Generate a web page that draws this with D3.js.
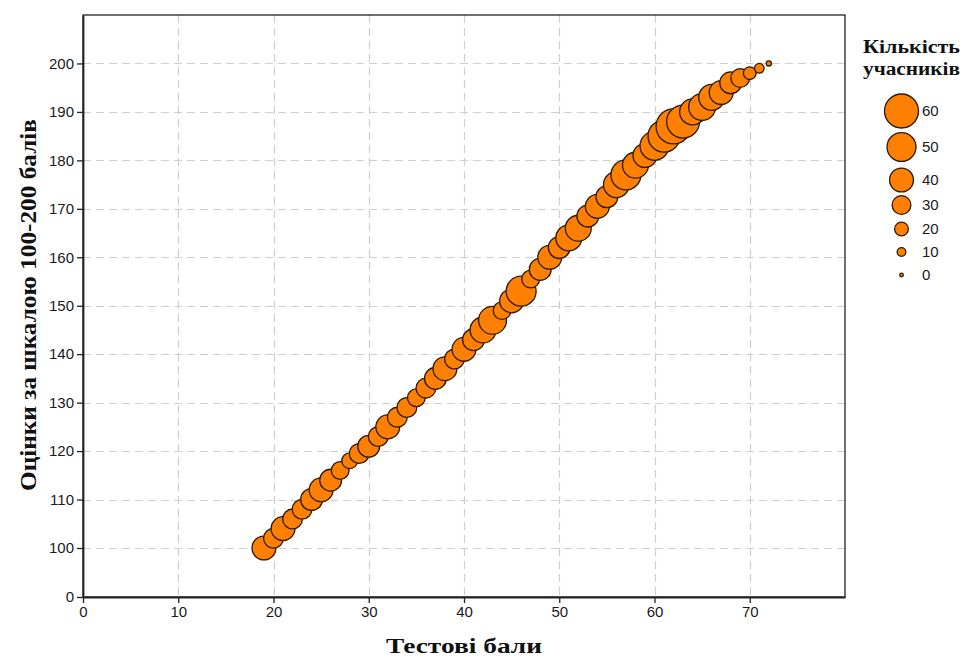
<!DOCTYPE html>
<html>
<head>
<meta charset="utf-8">
<script src="https://cdn.jsdelivr.net/npm/d3@7"></script>
<style>
  html, body { margin: 0; padding: 0; background: #fff; }
  svg { display: block; }
</style>
</head>
<body>
<svg id="chart" width="964" height="659"></svg>
<script>
// ---- Data ----
const testScores = [19,20,21,22,23,24,25,26,27,28,29,30,31,32,33,34,35,36,37,38,39,40,41,42,43,44,45,46,47,48,49,50,51,52,53,54,55,56,57,58,59,60,61,62,63,64,65,66,67,68,69,70,71,72];
const scaledScores = [100,102,104,106,108,110,112,114,116,118,119.5,121,123,125,127,129,131,133,135,137,139,141,143,145,147,149,151,153,155.5,157.5,160,162,164,166,168.5,170.5,172.5,175,177,179,181,183,185,187,188,190,191,193,194,196,197,198,199,200];
const participants = [40,32,40,32,32,36,40,36,28,24,32,36,32,40,32,32,28,32,36,40,32,40,36,44,48,28,40,52,28,36,40,36,44,44,36,40,36,44,52,44,40,50,56,62,58,44,46,44,40,36,30,18,12,3];
const xTickValues = [0,10,20,30,40,50,60,70];
const yTickValues = [0,100,110,120,130,140,150,160,170,180,190,200];
const legendValues = [60,50,40,30,20,10,0];
const xTitle = "Тестові бали";
const yTitle = "Оцінки за шкалою 100-200 балів";
const legendTitle = ["Кількість", "учасників"];

// ---- Layout ----
const svg = d3.select("#chart");
const plot = { left: 83, right: 845, top: 15, bottom: 597 };

const x = d3.scaleLinear().domain([0, 80]).range([plot.left, plot.right]);
// broken axis: 0 .. 100 compressed, 100 .. 210 linear
const y = d3.scaleLinear().domain([0, 100, 210]).range([plot.bottom, 548, plot.top]);
const r = d3.scaleLinear().domain([0, 60]).range([1.8, 17]);

const fill = "#ff8000";
const stroke = "#2a1a08";

// gridlines
const grid = svg.append("g").attr("stroke", "#cfcfcf").attr("stroke-width", 1.2)
  .attr("stroke-dasharray", "8,5");
grid.selectAll("line.v").data(xTickValues.filter(d => d > 0)).join("line")
  .attr("class", "v")
  .attr("x1", d => Math.round(x(d)) + 0.5).attr("x2", d => Math.round(x(d)) + 0.5)
  .attr("y1", plot.top).attr("y2", plot.bottom);
grid.selectAll("line.h").data(yTickValues.filter(d => d > 0)).join("line")
  .attr("class", "h")
  .attr("y1", d => Math.round(y(d)) + 0.5).attr("y2", d => Math.round(y(d)) + 0.5)
  .attr("x1", plot.left).attr("x2", plot.right);

// frame
svg.append("rect")
  .attr("x", plot.left).attr("y", plot.top)
  .attr("width", plot.right - plot.left).attr("height", plot.bottom - plot.top)
  .attr("fill", "none").attr("stroke", "#222").attr("stroke-width", 1.3);

// axes
const xAxis = d3.axisBottom(x).tickValues(xTickValues).tickSizeInner(6).tickSizeOuter(0).tickPadding(3).tickFormat(d3.format("d"));
const yAxis = d3.axisLeft(y).tickValues(yTickValues).tickSizeInner(6).tickSizeOuter(0).tickPadding(3).tickFormat(d3.format("d"));

const gx = svg.append("g").attr("transform", `translate(0,${plot.bottom})`).call(xAxis);
const gy = svg.append("g").attr("transform", `translate(${plot.left},0)`).call(yAxis);
[gx, gy].forEach(g => {
  g.select(".domain").attr("stroke", "#222").attr("stroke-width", 1.8);
  g.selectAll(".tick line").attr("stroke", "#222").attr("stroke-width", 1.3);
  g.selectAll(".tick text").attr("font-family", "'Liberation Sans', Arial, sans-serif")
    .attr("font-size", 15).attr("fill", "#1a1a1a");
});

// bubbles
const data = testScores.map((s, i) => ({ s, v: scaledScores[i], n: participants[i] }));
svg.append("g").selectAll("circle").data(data).join("circle")
  .attr("cx", d => x(d.s)).attr("cy", d => y(d.v)).attr("r", d => r(d.n))
  .attr("fill", fill).attr("stroke", stroke).attr("stroke-width", 1.3);

// axis titles
svg.append("text")
  .attr("x", 464).attr("y", 653)
  .attr("text-anchor", "middle")
  .attr("font-family", "'Liberation Serif', 'Times New Roman', serif")
  .attr("font-weight", "bold").attr("font-size", 22)
  .attr("textLength", 156).attr("lengthAdjust", "spacingAndGlyphs")
  .attr("fill", "#111")
  .text(xTitle);

svg.append("text")
  .attr("transform", "translate(36,305) rotate(-90)")
  .attr("text-anchor", "middle")
  .attr("font-family", "'Liberation Serif', 'Times New Roman', serif")
  .attr("font-weight", "bold").attr("font-size", 23)
  .attr("textLength", 372).attr("lengthAdjust", "spacingAndGlyphs")
  .attr("fill", "#111")
  .text(yTitle);

// legend
const lg = svg.append("g");
legendTitle.forEach((t, i) => {
  lg.append("text")
    .attr("x", 863).attr("y", 53 + i * 22)
    .attr("font-family", "'Liberation Serif', 'Times New Roman', serif")
    .attr("font-weight", "bold").attr("font-size", 18)
    .attr("textLength", 97).attr("lengthAdjust", "spacingAndGlyphs")
    .attr("fill", "#111")
    .text(t);
});
const legendPos = [111, 147, 180, 205, 229, 252, 275];
lg.selectAll("circle").data(legendValues).join("circle")
  .attr("cx", 901.5).attr("cy", (d, i) => legendPos[i]).attr("r", d => r(d))
  .attr("fill", fill).attr("stroke", stroke).attr("stroke-width", 1.3);
lg.selectAll("text.lv").data(legendValues).join("text")
  .attr("class", "lv")
  .attr("x", 922).attr("y", (d, i) => legendPos[i]).attr("dy", "0.35em")
  .attr("font-family", "'Liberation Sans', Arial, sans-serif")
  .attr("font-size", 15).attr("fill", "#1a1a1a")
  .text(d => d);
</script>
</body>
</html>
